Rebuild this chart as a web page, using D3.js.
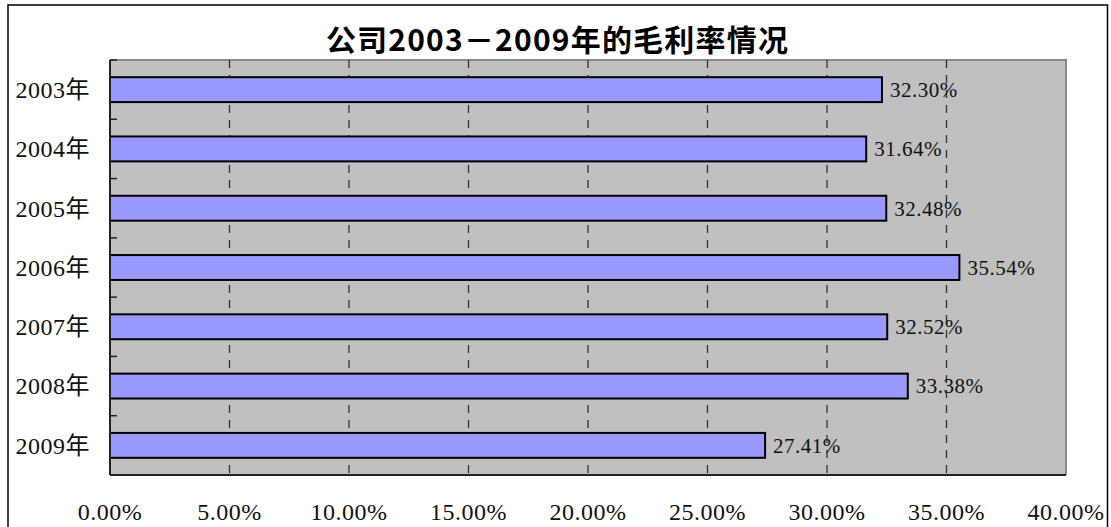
<!DOCTYPE html>
<html><head><meta charset="utf-8">
<script src="https://cdn.jsdelivr.net/npm/d3@7"></script>
<style>body{margin:0;background:#fff;}svg{display:block;}</style>
</head><body>
<svg id="c" width="1111" height="527"></svg>
<script>
const categories = ["2003年","2004年","2005年","2006年","2007年","2008年","2009年"];
const margins = [32.30, 31.64, 32.48, 35.54, 32.52, 33.38, 27.41];
const xTicks = [0, 5, 10, 15, 20, 25, 30, 35, 40];
const title = "公司2003－2009年的毛利率情况";

const svg = d3.select("#c");
const P = {l:110, t:60, r:1066, b:475};
const serif = "'Liberation Serif','Noto Sans CJK SC',serif";

// outer frame
svg.append("rect").attr("x",8).attr("y",5).attr("width",1099.5).attr("height",560)
  .attr("fill","#fff").attr("stroke","#000").attr("stroke-width",1.5);

const x = d3.scaleLinear().domain([0,40]).range([P.l,P.r]);
const y = d3.scaleBand().domain(categories).range([P.t,P.b]).paddingInner(0.58).paddingOuter(0.29);
const yb = d3.scaleBand().domain(categories).range([P.t,P.b]);

// plot area
svg.append("rect").attr("x",P.l).attr("y",P.t).attr("width",P.r-P.l).attr("height",P.b-P.t)
  .attr("fill","#C0C0C0");
svg.append("path").attr("d",`M${P.l},${P.t}H${P.r}V${P.b}`).attr("fill","none")
  .attr("stroke","#888").attr("stroke-width",2);

// gridlines
svg.append("g").selectAll("line").data(xTicks.filter(d=>d>0&&d<40)).join("line")
  .attr("x1",d=>x(d)).attr("x2",d=>x(d)).attr("y1",P.t).attr("y2",P.b)
  .attr("stroke","#333").attr("stroke-width",1.3).attr("stroke-dasharray","8,7");

// bars
svg.append("g").selectAll("rect").data(categories).join("rect")
  .attr("x",x(0)).attr("y",d=>y(d)).attr("height",y.bandwidth())
  .attr("width",(d,i)=>x(margins[i])-x(0))
  .attr("fill","#9999FF").attr("stroke","#000").attr("stroke-width",2);

// bar labels
svg.append("g").selectAll("text").data(categories).join("text")
  .attr("x",(d,i)=>x(margins[i])+8).attr("y",d=>y(d)+y.bandwidth()/2)
  .attr("dy","0.35em").attr("font-family",serif).attr("font-size",21)
  .attr("letter-spacing",0.5).attr("fill","#111")
  .text((d,i)=>margins[i].toFixed(2)+"%");

// y axis
const yAxis = svg.append("g").attr("transform",`translate(${P.l},0)`);
yAxis.append("line").attr("x1",0).attr("x2",0).attr("y1",P.t).attr("y2",P.b)
  .attr("stroke","#222").attr("stroke-width",2);
yAxis.selectAll("line.tk").data(d3.range(categories.length+1)).join("line").attr("class","tk")
  .attr("x1",0).attr("x2",7).attr("y1",i=>P.t+i*yb.step()).attr("y2",i=>P.t+i*yb.step())
  .attr("stroke","#222").attr("stroke-width",1.5);
yAxis.selectAll("text").data(categories).join("text")
  .attr("x",-20).attr("y",d=>yb(d)+yb.bandwidth()/2).attr("dy","0.35em")
  .attr("text-anchor","end").attr("font-family",serif).attr("font-size",24).attr("fill","#111")
  .attr("letter-spacing",0.5)
  .text(d=>d);

// x axis
svg.append("line").attr("x1",P.l).attr("x2",P.r).attr("y1",P.b).attr("y2",P.b)
  .attr("stroke","#222").attr("stroke-width",2);
svg.append("g").selectAll("text").data(xTicks).join("text")
  .attr("x",d=>x(d)).attr("y",520).attr("text-anchor","middle")
  .attr("font-family",serif).attr("font-size",24).attr("letter-spacing",0.5).attr("fill","#111")
  .text(d=>d.toFixed(2)+"%");

// title
svg.append("text").attr("x",557.5).attr("y",51).attr("text-anchor","middle")
  .attr("font-family","'Noto Sans CJK SC',sans-serif").attr("font-weight","bold")
  .attr("font-size",30).attr("letter-spacing",1.2).attr("fill","#000").text(title);
</script>
</body></html>
